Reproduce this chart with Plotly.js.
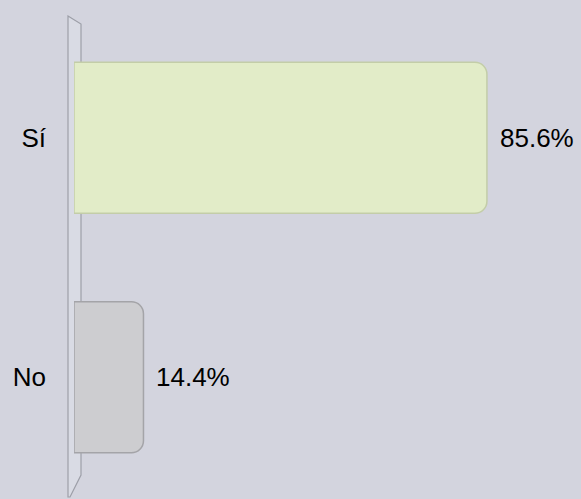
<!DOCTYPE html>
<html>
<head>
<meta charset="utf-8">
<script src="https://cdn.plot.ly/plotly-3.0.1.min.js"></script>
<style>html,body{margin:0;padding:0;background:#d3d4de;}#chart{width:581px;height:499px;}</style>
</head>
<body>
<div id="chart"></div>
<script>
const categories = ["Sí", "No"];
const values = [85.6, 14.4];
const barColors = ["#e2ecc8", "#cdcdd0"];
const lineColors = ["#c3cda8", "#a4a4a8"];

const trace = {
  type: "bar",
  orientation: "h",
  y: categories,
  x: values,
  width: 0.63,
  marker: {
    color: barColors,
    line: {color: lineColors, width: 1.5},
    cornerradius: 12
  },
  hoverinfo: "none",
  showlegend: false
};

const annotations = categories.map((c, i) => ({
  x: values[i], y: c, xref: "x", yref: "y",
  text: values[i].toFixed(1) + "%",
  showarrow: false, xanchor: "left", yanchor: "middle",
  xshift: 11,
  font: {family: "Liberation Sans, Arial, sans-serif", size: 26, color: "#000"}
}));

function px(p){ return (p - 74) / 507; }
function py(p){ return (497 - p) / 479; }

const wallPath = "M " + px(68) + " " + py(16) +
  " L " + px(81) + " " + py(24) +
  " L " + px(81) + " " + py(475) +
  " L " + px(70) + " " + py(497) +
  " L " + px(68) + " " + py(497) + " Z";

const layout = {
  width: 581, height: 499,
  paper_bgcolor: "#d3d4de",
  plot_bgcolor: "rgba(0,0,0,0)",
  margin: {l: 74, r: 0, t: 18, b: 2, pad: 0},
  xaxis: {range: [0, 105.1], visible: false, fixedrange: true},
  yaxis: {
    type: "category",
    categoryorder: "array", categoryarray: categories.slice().reverse(),
    range: [-0.5, 1.5],
    showgrid: false, zeroline: false, showline: false,
    ticks: "", ticklabelstandoff: 27,
    tickfont: {family: "Liberation Sans, Arial, sans-serif", size: 26, color: "#000"}
  },
  shapes: [
    {type: "path", xref: "paper", yref: "paper", path: wallPath,
     fillcolor: "#d9dbe4", line: {color: "#9d9fa8", width: 1.2}, layer: "below"}
  ],
  annotations: annotations
};

Plotly.newPlot("chart", [trace], layout, {displayModeBar: false, staticPlot: true});
</script>
</body>
</html>
